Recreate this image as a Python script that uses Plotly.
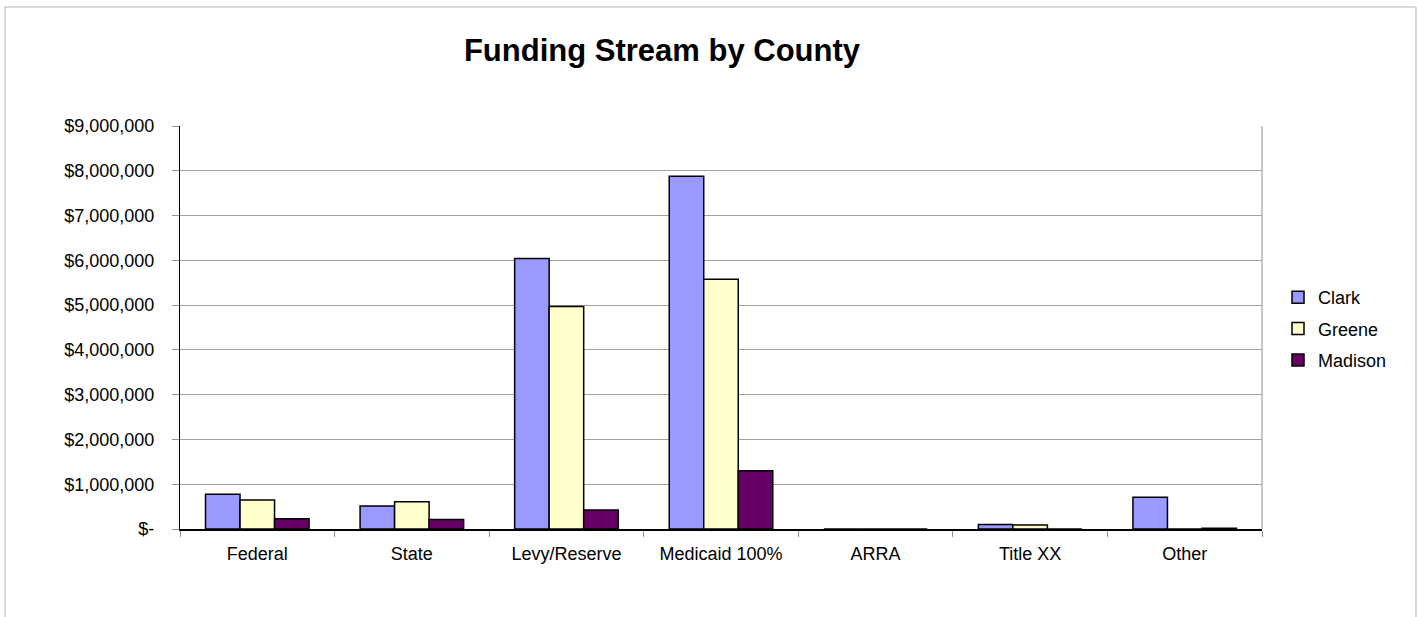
import plotly.graph_objects as go

categories = ["Federal", "State", "Levy/Reserve", "Medicaid 100%", "ARRA", "Title XX", "Other"]
clark = [775000, 515000, 6040000, 7880000, 0, 100000, 710000]
greene = [648000, 610000, 4970000, 5580000, 0, 88000, 0]
madison = [230000, 210000, 425000, 1300000, 0, 0, 18000]
series_names = ["Clark", "Greene", "Madison"]
series_colors = ["#9999FF", "#FFFFCC", "#660066"]
y_tickvals = [0, 1000000, 2000000, 3000000, 4000000, 5000000, 6000000, 7000000, 8000000, 9000000]
y_ticktext = ["$-", "$1,000,000", "$2,000,000", "$3,000,000", "$4,000,000",
              "$5,000,000", "$6,000,000", "$7,000,000", "$8,000,000", "$9,000,000"]

FONT = "Liberation Sans, Arial, sans-serif"

fig = go.Figure()
for name, vals, col in zip(series_names, [clark, greene, madison], series_colors):
    fig.add_trace(go.Bar(
        x=categories, y=vals, name=name, legendgroup=name,
        marker=dict(color=col, line=dict(color="#000000", width=1.5)),
    ))

W, H = 1417, 617
L, R, T, B = 180, 155, 126, 88
pw, ph = W - L - R, H - T - B

def px_x(x):
    return (x - L) / pw

def px_y(y):
    return (H - B - y) / ph

shapes = [
    # outer chart border
    dict(type="rect", xref="paper", yref="paper",
         x0=px_x(5), x1=px_x(1416), y0=px_y(625), y1=px_y(7),
         line=dict(color="#b4b4b4", width=1), fillcolor="rgba(0,0,0,0)", layer="below"),
    # plot area right border
    dict(type="line", xref="paper", yref="paper", x0=1, x1=1, y0=0, y1=1,
         line=dict(color="#909090", width=1), layer="below"),
]

fig.update_layout(
    width=W, height=H,
    margin=dict(l=L, r=R, t=T, b=B),
    paper_bgcolor="white", plot_bgcolor="white",
    font=dict(family=FONT, size=18, color="#000000"),
    title=dict(text="<b>Funding Stream by County</b>", x=662 / W, xanchor="center",
               y=1 - 50 / H, yanchor="middle", xref="container", yref="container",
               font=dict(family=FONT, size=31, color="#000000")),
    barmode="group", bargap=0.33, bargroupgap=0,
    showlegend=True,
    legend=dict(x=px_x(1278), xanchor="left", y=px_y(329), yanchor="middle",
                font=dict(family=FONT, size=18), bgcolor="rgba(0,0,0,0)",
                tracegroupgap=5, itemwidth=30),
    shapes=shapes,
)

fig.update_xaxes(
    type="category", categoryorder="array", categoryarray=categories,
    showline=True, linecolor="#000000", linewidth=1.5,
    ticks="outside", tickson="boundaries", ticklen=6, tickcolor="#909090",
    showgrid=False, tickfont=dict(family=FONT, size=18), ticklabelstandoff=8,
)
fig.update_yaxes(
    range=[0, 9000000], tickvals=y_tickvals, ticktext=y_ticktext,
    showline=True, linecolor="#000000", linewidth=1.2,
    ticks="outside", ticklen=7, tickcolor="#909090",
    showgrid=True, gridcolor="#a0a0a0", gridwidth=1,
    zeroline=False, tickfont=dict(family=FONT, size=18), ticklabelstandoff=14,
)

fig.write_html("out.html", config={"displayModeBar": False},
               post_script="document.body.style.margin='0px';")
